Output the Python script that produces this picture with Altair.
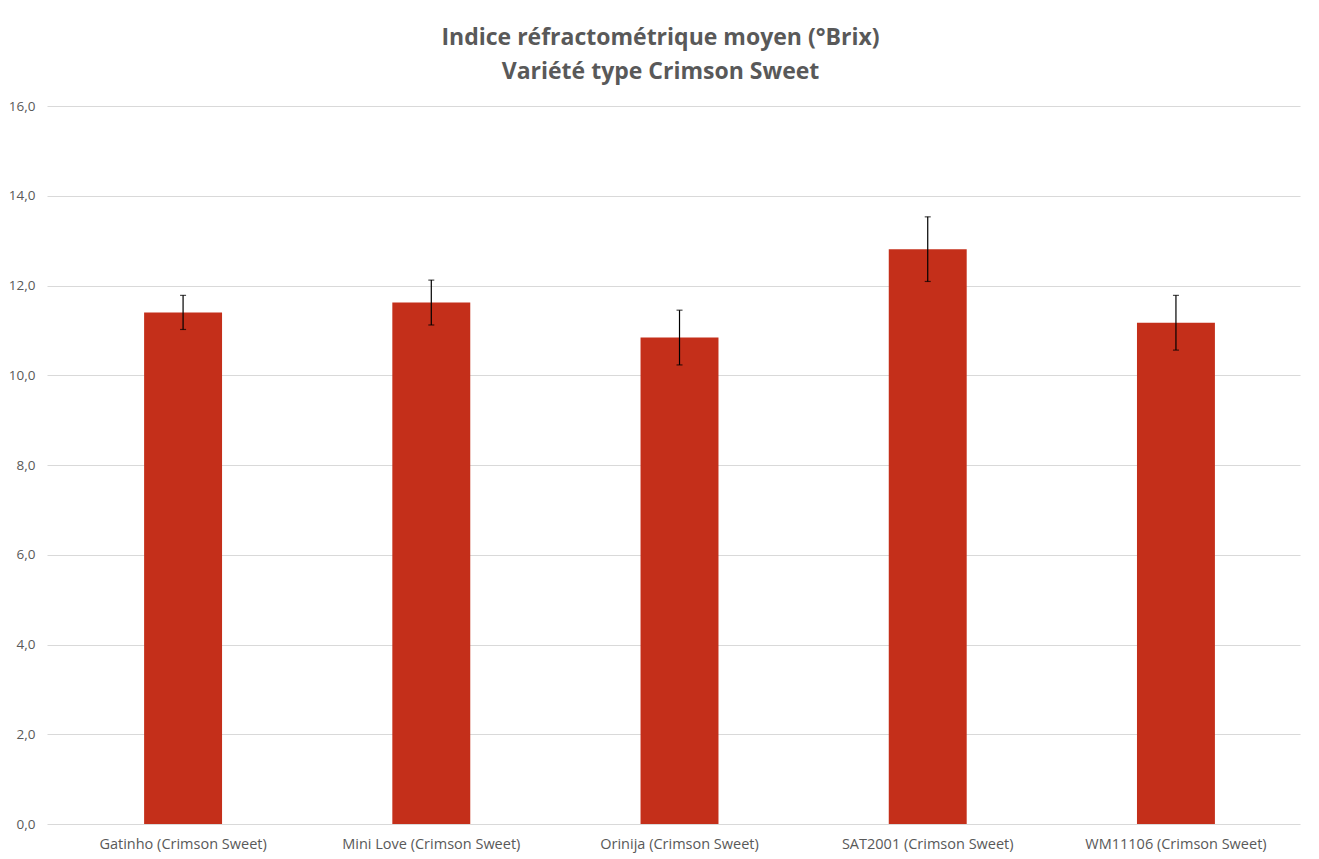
import altair as alt
import pandas as pd

categories = [
    "Gatinho (Crimson Sweet)",
    "Mini Love (Crimson Sweet)",
    "Orinija (Crimson Sweet)",
    "SAT2001 (Crimson Sweet)",
    "WM11106 (Crimson Sweet)",
]
means = [11.40, 11.62, 10.84, 12.81, 11.17]
errors = [0.38, 0.50, 0.61, 0.72, 0.61]

df = pd.DataFrame({"cat": categories, "mean": means, "err": errors})
df["lo"] = df["mean"] - df["err"]
df["hi"] = df["mean"] + df["err"]

FONT = "Open Sans"
GREY = "#595959"

xscale = alt.Scale(paddingInner=0.686, paddingOuter=0.367, align=0.533)

x = alt.X(
    "cat:N",
    sort=categories,
    title=None,
    scale=xscale,
    axis=alt.Axis(
        labelAngle=0,
        ticks=False,
        domain=False,
        labelFontSize=14.5,
        labelColor=GREY,
        labelFont=FONT,
        labelPadding=13,
        labelLimit=400,
        labelOverlap=False,
        grid=False,
    ),
)

y_axis = alt.Axis(
    values=[0, 2, 4, 6, 8, 10, 12, 14, 16],
    labelExpr="replace(format(datum.value, '.1f'), '.', ',')",
    ticks=False,
    domain=False,
    labelFontSize=13.5,
    labelColor=GREY,
    labelFont=FONT,
    labelPadding=12,
    grid=True,
    gridColor="#d9d9d9",
    gridWidth=1,
)

bars = alt.Chart(df).mark_bar(color="#C42F1A").encode(
    x=x,
    y=alt.Y("mean:Q", title=None, scale=alt.Scale(domain=[0, 16], nice=False), axis=y_axis),
)

rules = alt.Chart(df).mark_rule(color="black", strokeWidth=1.2).encode(
    x=alt.X("cat:N", sort=categories),
    y="lo:Q",
    y2="hi:Q",
)

caps_lo = alt.Chart(df).mark_tick(color="black", size=6, thickness=1.2, orient="horizontal").encode(
    x=alt.X("cat:N", sort=categories),
    y="lo:Q",
)
caps_hi = alt.Chart(df).mark_tick(color="black", size=6, thickness=1.2, orient="horizontal").encode(
    x=alt.X("cat:N", sort=categories),
    y="hi:Q",
)

chart = (
    alt.layer(bars, rules, caps_lo, caps_hi)
    .properties(
        width=1253,
        height=718,
        autosize=alt.AutoSizeParams(type="none"),
        padding={"left": 39, "top": 98, "right": 10, "bottom": 40},
        title=alt.TitleParams(
            text=["Indice réfractométrique moyen (°Brix)", "Variété type Crimson Sweet"],
            fontSize=23,
            font=FONT,
            fontWeight="bold",
            color=GREY,
            anchor="middle",
            offset=15,
            dx=-13,
            lineHeight=34,
        ),
    )
    .configure_view(stroke=None)
)

chart.save("out.html", embed_options={"renderer": "svg", "actions": False})
